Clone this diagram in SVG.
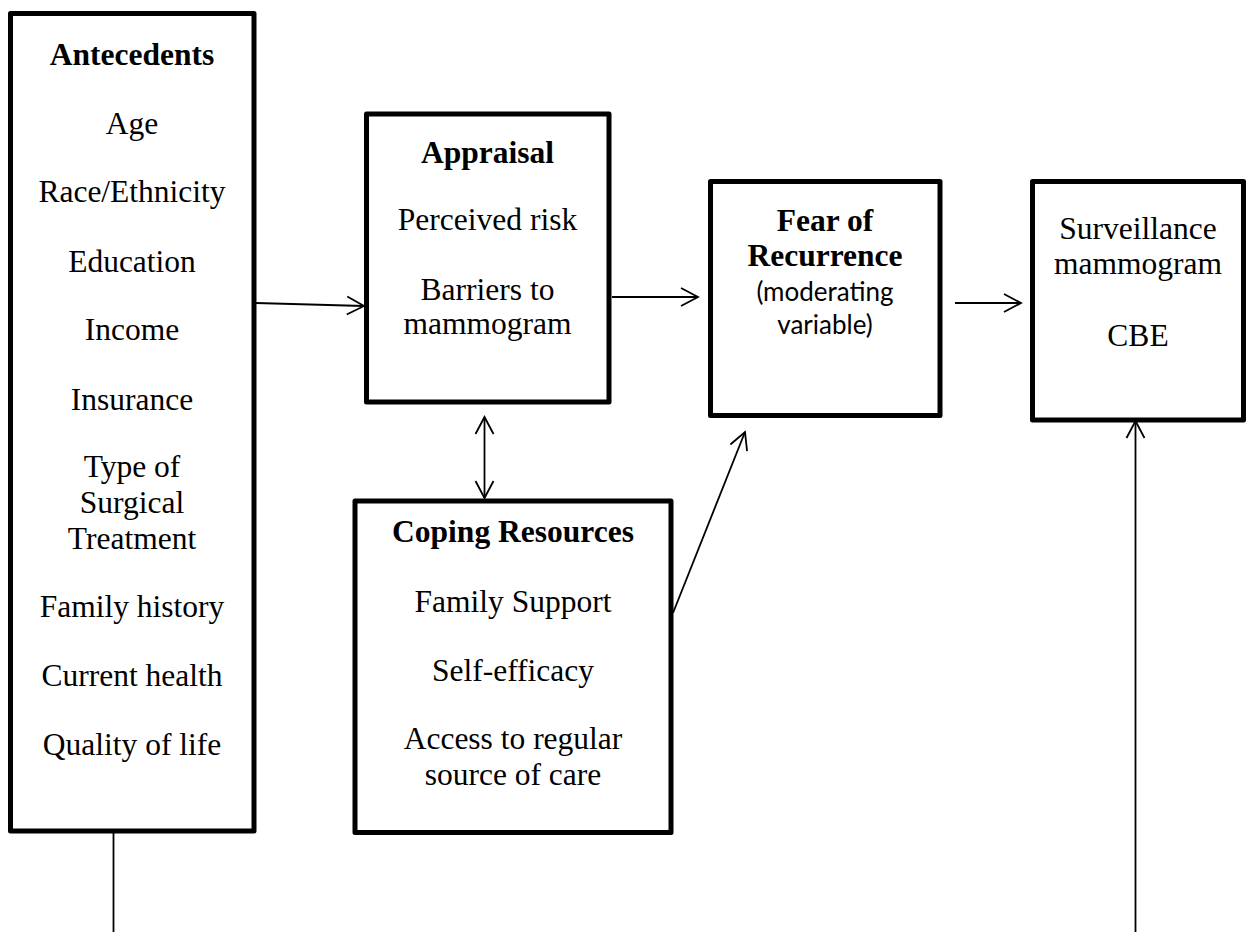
<svg xmlns="http://www.w3.org/2000/svg" width="1246" height="939" viewBox="0 0 1246 939">
<style>
.box{fill:#fff;stroke:#000;stroke-width:5;stroke-linejoin:round}
.t{font-family:"Liberation Serif","Times New Roman",serif;font-size:31.5px;fill:#000;text-anchor:middle}
.b{font-weight:bold}
.s{font-family:Lato,"Liberation Sans",sans-serif;font-size:26px;fill:#000;text-anchor:middle}
.c{fill:none;stroke:#000;stroke-width:1.8}
</style>
<defs>
<marker id="ah" markerUnits="userSpaceOnUse" markerWidth="24" markerHeight="24" viewBox="-20 -12 24 24" refX="0" refY="0" orient="auto-start-reverse">
<path d="M-17,-9 L0,0 L-17,9" fill="none" stroke="#000" stroke-width="1.8"/>
</marker>
</defs>
<rect width="1246" height="939" fill="#fff"/>
<g id="connectors">
<line class="c" x1="256" y1="303" x2="364" y2="306" marker-end="url(#ah)"/>
<line class="c" x1="612" y1="297" x2="698" y2="297" marker-end="url(#ah)"/>
<line class="c" x1="955" y1="303" x2="1021" y2="303" marker-end="url(#ah)"/>
<line class="c" x1="484.5" y1="417" x2="484.5" y2="498" marker-start="url(#ah)" marker-end="url(#ah)"/>
<line class="c" x1="673" y1="613" x2="745" y2="432" marker-end="url(#ah)"/>
<line class="c" x1="113.5" y1="833" x2="113.5" y2="932"/>
<line class="c" x1="1135.5" y1="932" x2="1135.5" y2="421" marker-end="url(#ah)"/>
</g>
<g id="antecedents">
<rect class="box" x="10.5" y="13.5" width="243.5" height="817.5"/>
<text class="t b" x="132" y="65">Antecedents</text>
<text class="t" x="132" y="134">Age</text>
<text class="t" x="132" y="202">Race/Ethnicity</text>
<text class="t" x="132" y="272">Education</text>
<text class="t" x="132" y="340">Income</text>
<text class="t" x="132" y="410">Insurance</text>
<text class="t" x="132" y="477">Type of</text>
<text class="t" x="132" y="513">Surgical</text>
<text class="t" x="132" y="549">Treatment</text>
<text class="t" x="132" y="617">Family history</text>
<text class="t" x="132" y="686">Current health</text>
<text class="t" x="132" y="755">Quality of life</text>
</g>
<g id="appraisal">
<rect class="box" x="366.5" y="114" width="242.5" height="288"/>
<text class="t b" x="487.5" y="163">Appraisal</text>
<text class="t" x="487.5" y="230">Perceived risk</text>
<text class="t" x="487.5" y="300">Barriers to</text>
<text class="t" x="487.5" y="334">mammogram</text>
</g>
<g id="fear">
<rect class="box" x="710.5" y="181.5" width="229.5" height="234"/>
<text class="t b" x="825" y="231">Fear of</text>
<text class="t b" x="825" y="266">Recurrence</text>
<text class="s" x="825" y="301">(moderating</text>
<text class="s" x="825" y="334">variable)</text>
</g>
<g id="coping">
<rect class="box" x="355" y="501" width="316" height="331.5"/>
<text class="t b" x="513" y="542">Coping Resources</text>
<text class="t" x="513" y="612">Family Support</text>
<text class="t" x="513" y="681">Self-efficacy</text>
<text class="t" x="513" y="749">Access to regular</text>
<text class="t" x="513" y="785">source of care</text>
</g>
<g id="surveillance">
<rect class="box" x="1032.5" y="181.5" width="211" height="238.5"/>
<text class="t" x="1138" y="239">Surveillance</text>
<text class="t" x="1138" y="274">mammogram</text>
<text class="t" x="1138" y="346">CBE</text>
</g>
</svg>
